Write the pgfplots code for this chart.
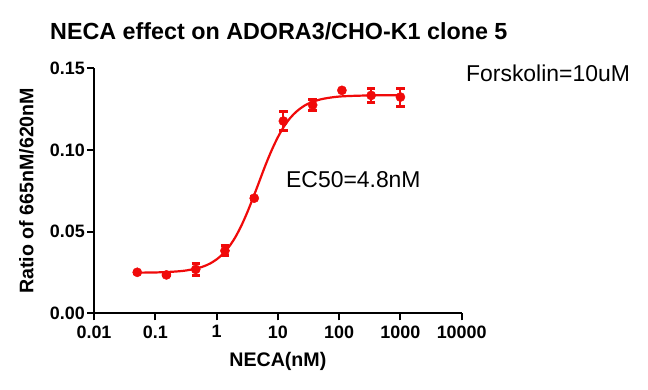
\documentclass[border=0pt]{standalone}
\usepackage{fontspec}
\setmainfont{Liberation Sans}
\usepackage{pgfplots}
\usepackage{pgfplotstable}
\pgfplotsset{compat=1.18}
\definecolor{pr}{RGB}{240,10,10}
\pgfplotstableread{
x y e
0.0508 0.0251 0.0006
0.152 0.0235 0.0006
0.457 0.0269 0.0035
1.37 0.0383 0.0030
4.12 0.0705 0.0008
12.3 0.1177 0.0058
37.0 0.1275 0.0032
111 0.1365 0.0008
333 0.1334 0.0043
1000 0.1324 0.0055
}\datatab
\pgfplotstableread{
x y
0.0508 0.0249
0.1 0.0250
0.2 0.0255
0.316 0.0262
0.5 0.0277
0.631 0.0289
0.794 0.0306
1 0.0330
1.259 0.0362
1.585 0.0406
1.995 0.0462
2.512 0.0533
3.162 0.0617
3.981 0.0711
5.012 0.0810
6.310 0.0909
7.943 0.0999
10 0.1078
12.59 0.1144
15.85 0.1195
19.95 0.1234
25.12 0.1263
31.62 0.1284
50.12 0.1310
100 0.1327
316 0.1334
1000 0.1335
}\fittab
\begin{document}
\begin{tikzpicture}[x=1bp,y=1bp]
\path[use as bounding box] (0,0) rectangle (648,389);
\begin{axis}[
  at={(94bp,75.7bp)}, anchor=south west,
  scale only axis, width=367.7bp, height=245bp,
  xmode=log, xmin=0.01, xmax=10000, ymin=0, ymax=0.15,
  clip=false,
  axis lines=left,
  axis line style={line width=2bp, -, black},
  xminorticks=false,
  xtick={0.01,0.1,1,10,100,1000,10000},
  xticklabels={0.01,0.1,1,10,100,1000,10000},
  ytick={0,0.05,0.1,0.15},
  yticklabels={0.00,0.05,0.10,0.15},
  tick align=outside,
  major tick length=7bp,
  tick style={line width=2bp, black},
  ticklabel style={font=\fontsize{18}{20}\selectfont\bfseries},
  xticklabel style={anchor=north, inner sep=0pt, yshift=-5bp},
  yticklabel style={anchor=east, inner sep=0pt, xshift=-2bp},
  xlabel={NECA(nM)},
  ylabel={Ratio of 665nM/620nM},
  label style={font=\fontsize{19.7}{22}\selectfont\bfseries},
  xlabel style={at={(axis description cs:0.5,-0.218)}, anchor=base, inner sep=0pt},
  ylabel style={at={(axis description cs:-0.165,0.5)}, anchor=base, inner sep=0pt, rotate=0},
]
\addplot[pr, line width=2.2bp, smooth, no marks] table[x=x,y=y] {\fittab};
\addplot[pr, only marks, mark=*, mark size=4.6bp,
  mark options={pr, fill=pr},
  error bars/.cd, y dir=both, y explicit,
  error bar style={line width=2bp, pr},
  error mark options={rotate=90, mark size=4.2bp, line width=3bp, pr}]
  table[x=x,y=y,y error=e] {\datatab};
\end{axis}
\node[anchor=base west, inner sep=0pt, font=\fontsize{23.4}{26}\selectfont\bfseries] at (50,349.7) {NECA effect on ADORA3/CHO-K1 clone 5};
\node[anchor=base west, inner sep=0pt, font=\fontsize{23}{26}\selectfont] at (466,307.3) {Forskolin=10uM};
\node[anchor=base west, inner sep=0pt, font=\fontsize{23}{26}\selectfont] at (286,201.7) {EC50=4.8nM};
\end{tikzpicture}
\end{document}
